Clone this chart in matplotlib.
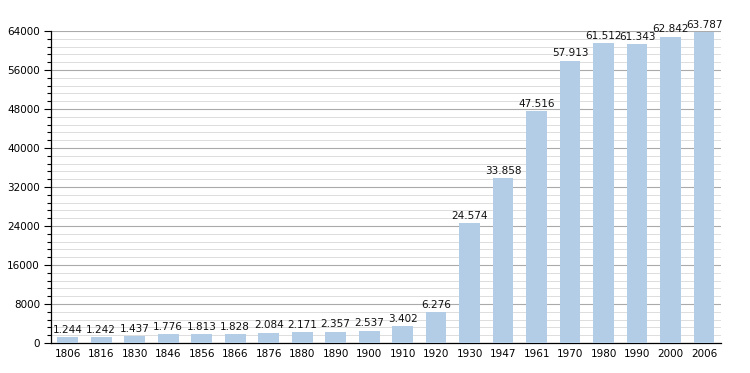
import matplotlib.pyplot as plt
import numpy as np
from matplotlib.ticker import MultipleLocator

years = ['1806', '1816', '1830', '1846', '1856', '1866', '1876', '1880', '1890', '1900',
         '1910', '1920', '1930', '1947', '1961', '1970', '1980', '1990', '2000', '2006']
population = [1244, 1242, 1437, 1776, 1813, 1828, 2084, 2171, 2357, 2537,
              3402, 6276, 24574, 33858, 47516, 57913, 61512, 61343, 62842, 63787]

fig = plt.figure(figsize=(7.5, 3.73), dpi=100)
ax = fig.add_axes([0.068, 0.0804, 0.893, 0.8365])

x = np.arange(len(years))
ax.bar(x, population, width=0.62, color='#b3cde6', zorder=3)

for xi, v in zip(x, population):
    label = f'{v:,}'.replace(',', '.')
    ax.text(xi, v + 500, label, ha='center', va='bottom', fontsize=7.5, color='#111111', zorder=4)

ax.set_xlim(-0.5, len(years) - 0.5)
ax.set_ylim(0, 64000)
ax.set_xticks(x)
ax.set_xticklabels(years)
ax.yaxis.set_major_locator(MultipleLocator(8000))
ax.yaxis.set_minor_locator(MultipleLocator(1600))

ax.grid(axis='y', which='major', color='#aaaaaa', linewidth=0.8, zorder=0)
ax.grid(axis='y', which='minor', color='#dddddd', linewidth=0.7, zorder=0)

for s in ['top', 'right']:
    ax.spines[s].set_visible(False)
ax.spines['left'].set_linewidth(0.9)
ax.spines['bottom'].set_linewidth(0.9)
ax.tick_params(axis='x', length=0, labelsize=7.5, pad=4)
ax.tick_params(axis='y', which='major', length=5, width=0.8, labelsize=7.5, pad=3)
ax.tick_params(axis='y', which='minor', length=3, width=0.8)

fig.savefig('out.png', dpi=100)
